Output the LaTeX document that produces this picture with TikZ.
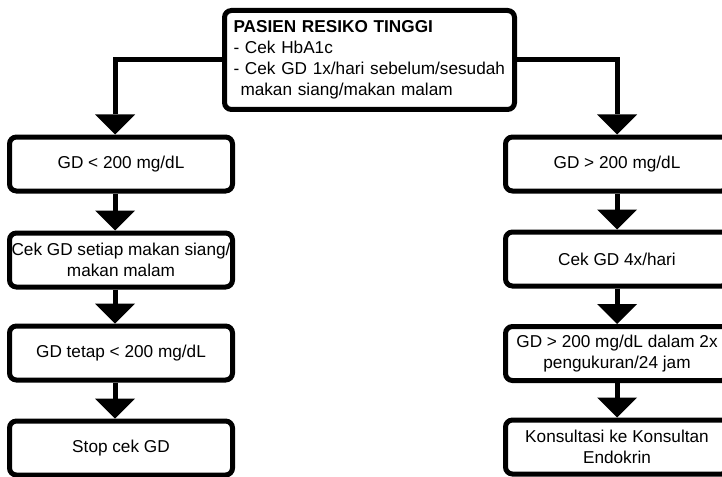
\documentclass[tikz,border=0pt]{standalone}
\usepackage{fontspec}
\setmainfont{Liberation Sans}
\usetikzlibrary{arrows.meta}
\tikzset{
  box/.style={draw, line width=5pt, rounded corners=7pt, minimum width=223pt, minimum height=54pt, inner xsep=1pt, align=center, font=\fontsize{17.2}{21}\selectfont},
  arr/.style={line width=5pt, -{Triangle[width=40pt,length=20pt,line width=0pt]}}
}
\begin{document}
\begin{tikzpicture}[x=1pt,y=-1pt]
\useasboundingbox (0,0) rectangle (722,476);
\clip (0,0) rectangle (722,476);
\node[box, align=left, text width=272pt, inner xsep=9pt, minimum width=290pt, minimum height=99pt] (top) at (369.5,60) {\textbf{PASIEN RESIKO TINGGI}\\- Cek HbA1c\\- Cek GD 1x/hari sebelum/sesudah\\\hspace*{7pt}makan siang/makan malam};
\node[box] (low1) at (121,164) {GD < 200 mg/dL};
\node[box] (low2) at (121,260) {Cek GD setiap makan siang/\\makan malam};
\node[box] (low3) at (121,353) {GD tetap < 200 mg/dL};
\node[box] (low4) at (121,448) {Stop cek GD};
\node[box] (high1) at (617,164) {GD > 200 mg/dL};
\node[box] (high2) at (617,259) {Cek GD 4x/hari};
\node[box] (high3) at (617,353.5) {GD > 200 mg/dL dalam 2x\\pengukuran/24 jam};
\node[box] (high4) at (617,447) {Konsultasi ke Konsultan\\Endokrin};
\draw[arr] (top.west) -| ([xshift=-6pt]low1.north);
\draw[arr] (top.east) -| (high1.north);
\draw[arr] ([xshift=-6pt]low1.south) -- ([xshift=-6pt]low2.north);
\draw[arr] ([xshift=-6pt]low2.south) -- ([xshift=-6pt]low3.north);
\draw[arr] ([xshift=-6pt]low3.south) -- ([xshift=-6pt]low4.north);
\draw[arr] (high1.south) -- (high2.north);
\draw[arr] (high2.south) -- (high3.north);
\draw[arr] (high3.south) -- (high4.north);
\end{tikzpicture}
\end{document}
